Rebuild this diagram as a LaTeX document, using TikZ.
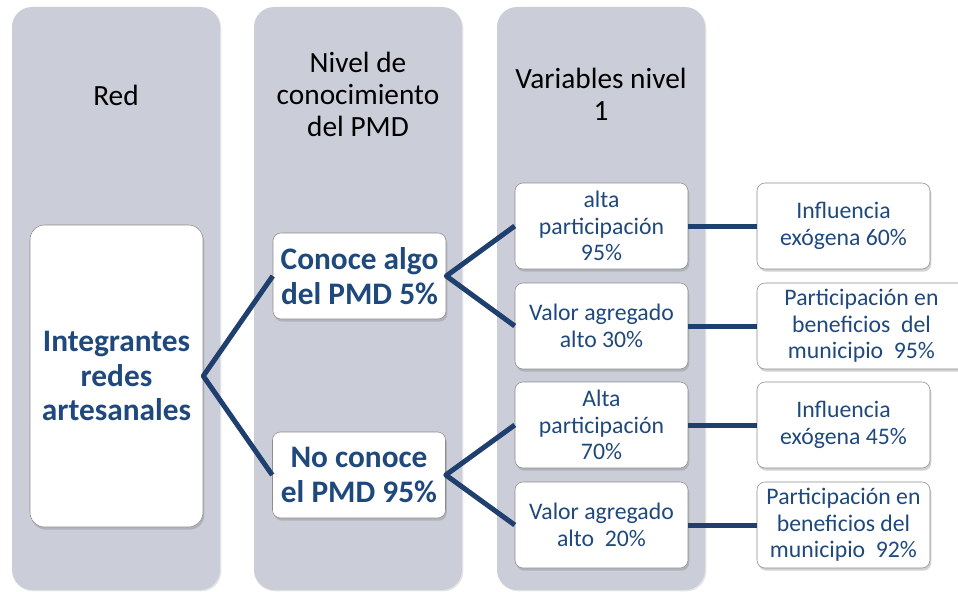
\documentclass[tikz,border=0pt]{standalone}
\usepackage{fontspec}
\setmainfont{Carlito}
\usetikzlibrary{shadows}
\definecolor{colgris}{RGB}{203,206,216}
\definecolor{azul}{RGB}{31,73,125}
\definecolor{linea}{RGB}{31,63,110}
\tikzset{
  columna/.style = {fill=colgris, rounded corners=15pt,
    drop shadow={shadow xshift=1pt, shadow yshift=-1pt, opacity=0.2}},% columna de fondo
  titulo/.style = {align=center, font=\fontsize{22}{24}\selectfont},% titulo de columna
  caja/.style = {draw=black!45, fill=white, rounded corners=6pt, align=center,
    inner sep=0pt, text=azul, minimum width=129.75pt, minimum height=64.5pt,
    drop shadow={shadow xshift=1pt, shadow yshift=-2pt, opacity=0.35}},% caja blanca
  caja_b/.style = {caja, font=\fontsize{23.5}{26}\selectfont\bfseries},% caja negrita
  caja_n/.style = {caja, font=\fontsize{17.8}{20}\selectfont},% caja normal
  enlace/.style = {draw=linea, line width=3.75pt, line join=round}
}

\begin{document}
\begin{tikzpicture}[x=0.75pt, y=-0.75pt]
\clip (0,0) rectangle (958,592);
\fill[white] (0,0) rectangle (958,592);
% columnas
\path[columna] (12,7) rectangle (220,590);
\path[columna] (254,7) rectangle (462,590);
\path[columna] (497,7) rectangle (705,590);
\node[titulo] (t1) at (116,95) {Red};
\node[titulo] (t2) at (358,94) {Nivel de\\conocimiento\\del PMD};
\node[titulo] (t3) at (601,94) {Variables nivel\\1};
% nivel 0 y 1
\node[caja_b, rounded corners=11pt, minimum height=226.5pt] (red) at (116.5,376)
  {Integrantes\\redes\\artesanales};
\node[caja_b] (con) at (359.5,276) {Conoce algo\\del PMD 5\%};
\node[caja_b] (noc) at (359,475) {No conoce\\el PMD 95\%};
% variables nivel 1
\node[caja_n] (alta1) at (601.5,226) {alta\\participación\\95\%};
\node[caja_n] (val1) at (601.5,326) {Valor agregado\\alto 30\%};
\node[caja_n] (alta2) at (601.5,425) {Alta\\participación\\70\%};
\node[caja_n] (val2) at (601.5,525) {Valor agregado\\alto\ \ 20\%};
% nivel 2
\node[caja_n] (inf1) at (843.5,226) {Influencia\\exógena 60\%};
\node[caja_n, minimum width=156.75pt] (par1) at (861.5,326)
  {Participación en\\beneficios\ \ del\\municipio\ \ 95\%};
\node[caja_n] (inf2) at (843.5,425) {Influencia\\exógena 45\%};
\node[caja_n] (par2) at (843.5,525) {Participación en\\beneficios del\\municipio\ \ 92\%};
% enlaces
\draw[enlace] (con.west) -- (red.east) -- (noc.west);
\draw[enlace] (alta1.west) -- (con.east) -- (val1.west);
\draw[enlace] (alta2.west) -- (noc.east) -- (val2.west);
\draw[enlace] (alta1) -- (inf1);
\draw[enlace] (val1.east) -- (par1.west);
\draw[enlace] (alta2) -- (inf2);
\draw[enlace] (val2) -- (par2);
\end{tikzpicture}
\end{document}
